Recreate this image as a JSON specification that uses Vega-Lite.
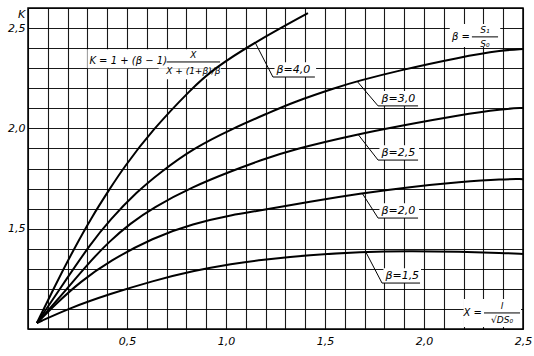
{
  "$schema": "https://vega.github.io/schema/vega-lite/v6.json",
  "width": 495,
  "height": 321,
  "autosize": "none",
  "padding": {"left": 28, "top": 8, "right": 11, "bottom": 27},
  "background": "white",
  "config": {
    "view": {"stroke": "black", "strokeWidth": 1.5},
    "font": "DejaVu Sans",
    "text": {"font": "DejaVu Sans", "fontStyle": "italic", "fontSize": 10, "color": "black"}
  },
  "datasets": {
    "curves": [
      {"beta": "4.0", "x": 0.045, "K": 1.03},
      {"beta": "4.0", "x": 0.136, "K": 1.215},
      {"beta": "4.0", "x": 0.227, "K": 1.39},
      {"beta": "4.0", "x": 0.323, "K": 1.56},
      {"beta": "4.0", "x": 0.414, "K": 1.7},
      {"beta": "4.0", "x": 0.48, "K": 1.8},
      {"beta": "4.0", "x": 0.626, "K": 1.99},
      {"beta": "4.0", "x": 0.828, "K": 2.2},
      {"beta": "4.0", "x": 0.934, "K": 2.295},
      {"beta": "4.0", "x": 1.146, "K": 2.43},
      {"beta": "4.0", "x": 1.414, "K": 2.575},
      {"beta": "3.0", "x": 0.045, "K": 1.03},
      {"beta": "3.0", "x": 0.202, "K": 1.26},
      {"beta": "3.0", "x": 0.313, "K": 1.42},
      {"beta": "3.0", "x": 0.414, "K": 1.545},
      {"beta": "3.0", "x": 0.551, "K": 1.685},
      {"beta": "3.0", "x": 0.667, "K": 1.78},
      {"beta": "3.0", "x": 0.833, "K": 1.9},
      {"beta": "3.0", "x": 1.035, "K": 2.0},
      {"beta": "3.0", "x": 1.222, "K": 2.08},
      {"beta": "3.0", "x": 1.338, "K": 2.13},
      {"beta": "3.0", "x": 1.561, "K": 2.205},
      {"beta": "3.0", "x": 1.662, "K": 2.235},
      {"beta": "3.0", "x": 1.879, "K": 2.29},
      {"beta": "3.0", "x": 2.182, "K": 2.355},
      {"beta": "3.0", "x": 2.399, "K": 2.39},
      {"beta": "3.0", "x": 2.5, "K": 2.396},
      {"beta": "2.5", "x": 0.045, "K": 1.03},
      {"beta": "2.5", "x": 0.197, "K": 1.2},
      {"beta": "2.5", "x": 0.298, "K": 1.32},
      {"beta": "2.5", "x": 0.414, "K": 1.44},
      {"beta": "2.5", "x": 0.515, "K": 1.525},
      {"beta": "2.5", "x": 0.631, "K": 1.605},
      {"beta": "2.5", "x": 0.833, "K": 1.71},
      {"beta": "2.5", "x": 1.035, "K": 1.79},
      {"beta": "2.5", "x": 1.172, "K": 1.84},
      {"beta": "2.5", "x": 1.338, "K": 1.895},
      {"beta": "2.5", "x": 1.662, "K": 1.97},
      {"beta": "2.5", "x": 1.879, "K": 2.012},
      {"beta": "2.5", "x": 2.182, "K": 2.067},
      {"beta": "2.5", "x": 2.399, "K": 2.097},
      {"beta": "2.5", "x": 2.5, "K": 2.102},
      {"beta": "2.0", "x": 0.045, "K": 1.03},
      {"beta": "2.0", "x": 0.146, "K": 1.13},
      {"beta": "2.0", "x": 0.263, "K": 1.235},
      {"beta": "2.0", "x": 0.414, "K": 1.34},
      {"beta": "2.0", "x": 0.631, "K": 1.455},
      {"beta": "2.0", "x": 0.833, "K": 1.525},
      {"beta": "2.0", "x": 1.035, "K": 1.57},
      {"beta": "2.0", "x": 1.172, "K": 1.59},
      {"beta": "2.0", "x": 1.424, "K": 1.635},
      {"beta": "2.0", "x": 1.677, "K": 1.675},
      {"beta": "2.0", "x": 1.929, "K": 1.708},
      {"beta": "2.0", "x": 2.182, "K": 1.733},
      {"beta": "2.0", "x": 2.399, "K": 1.748},
      {"beta": "2.0", "x": 2.5, "K": 1.747},
      {"beta": "1.5", "x": 0.045, "K": 1.03},
      {"beta": "1.5", "x": 0.212, "K": 1.105},
      {"beta": "1.5", "x": 0.414, "K": 1.175},
      {"beta": "1.5", "x": 0.631, "K": 1.24},
      {"beta": "1.5", "x": 0.833, "K": 1.29},
      {"beta": "1.5", "x": 1.035, "K": 1.326},
      {"beta": "1.5", "x": 1.172, "K": 1.344},
      {"beta": "1.5", "x": 1.424, "K": 1.369},
      {"beta": "1.5", "x": 1.677, "K": 1.384},
      {"beta": "1.5", "x": 1.929, "K": 1.389},
      {"beta": "1.5", "x": 2.182, "K": 1.385},
      {"beta": "1.5", "x": 2.399, "K": 1.379},
      {"beta": "1.5", "x": 2.5, "K": 1.374}
    ],
    "boxes": [
      {"x": 0.3, "x2": 0.975, "K": 2.3, "K2": 2.395},
      {"x": 0.66, "x2": 0.975, "K": 2.245, "K2": 2.3},
      {"x": 1.245, "x2": 1.455, "K": 2.256, "K2": 2.33},
      {"x": 1.775, "x2": 1.975, "K": 2.112, "K2": 2.186},
      {"x": 1.775, "x2": 1.975, "K": 1.842, "K2": 1.916},
      {"x": 1.775, "x2": 1.975, "K": 1.553, "K2": 1.627},
      {"x": 1.795, "x2": 1.985, "K": 1.229, "K2": 1.303},
      {"x": 2.13, "x2": 2.385, "K": 2.405, "K2": 2.52},
      {"x": 2.2, "x2": 2.49, "K": 1.01, "K2": 1.15}
    ],
    "rules": [
      {"x": 1.146, "K": 2.43, "x2": 1.237, "K2": 2.256},
      {"x": 1.237, "K": 2.256, "x2": 1.449, "K2": 2.256},
      {"x": 1.662, "K": 2.235, "x2": 1.768, "K2": 2.112},
      {"x": 1.768, "K": 2.112, "x2": 1.97, "K2": 2.112},
      {"x": 1.667, "K": 1.97, "x2": 1.768, "K2": 1.842},
      {"x": 1.768, "K": 1.842, "x2": 1.97, "K2": 1.842},
      {"x": 1.687, "K": 1.678, "x2": 1.768, "K2": 1.553},
      {"x": 1.768, "K": 1.553, "x2": 1.97, "K2": 1.553},
      {"x": 1.707, "K": 1.382, "x2": 1.788, "K2": 1.229},
      {"x": 1.788, "K": 1.229, "x2": 1.98, "K2": 1.229},
      {"x": 0.7, "K": 2.331, "x2": 0.97, "K2": 2.331},
      {"x": 2.242, "K": 2.456, "x2": 2.374, "K2": 2.456},
      {"x": 2.303, "K": 1.08, "x2": 2.485, "K2": 1.08}
    ],
    "betaLabels": [
      {"t": "β=4,0", "x": 1.255, "K": 2.266},
      {"t": "β=3,0", "x": 1.785, "K": 2.122},
      {"t": "β=2,5", "x": 1.785, "K": 1.852},
      {"t": "β=2,0", "x": 1.785, "K": 1.563},
      {"t": "β=1,5", "x": 1.805, "K": 1.239}
    ],
    "leftText": [
      {"t": "K = 1 + (β − 1)", "x": 0.31, "K": 2.335}
    ],
    "centerText": [
      {"t": "X", "x": 0.835, "K": 2.368},
      {"t": "X + (1+β)/β", "x": 0.835, "K": 2.285},
      {"t": "S₁", "x": 2.308, "K": 2.49},
      {"t": "S₀", "x": 2.308, "K": 2.42},
      {"t": "l", "x": 2.394, "K": 1.115},
      {"t": "√DS₀", "x": 2.394, "K": 1.045}
    ],
    "rightText": [
      {"t": "β =", "x": 2.232, "K": 2.456},
      {"t": "X =", "x": 2.293, "K": 1.08}
    ]
  },
  "layer": [
    {
      "data": {"name": "boxes"},
      "mark": {"type": "rect", "color": "white", "opacity": 1},
      "encoding": {
        "x": {"field": "x", "type": "quantitative"},
        "x2": {"field": "x2"},
        "y": {"field": "K", "type": "quantitative"},
        "y2": {"field": "K2"}
      }
    },
    {
      "data": {"name": "curves"},
      "mark": {"type": "line", "color": "black", "strokeWidth": 2, "interpolate": "basis"},
      "encoding": {
        "x": {
          "field": "x", "type": "quantitative",
          "scale": {"domain": [0, 2.5], "nice": false, "zero": false},
          "axis": {
            "values": [0,0.1,0.2,0.3,0.4,0.5,0.6,0.7,0.8,0.9,1.0,1.1,1.2,1.3,1.4,1.5,1.6,1.7,1.8,1.9,2.0,2.1,2.2,2.3,2.4,2.5],
            "tickCount": 100,
            "grid": true, "gridColor": "black", "gridWidth": 1.1, "gridOpacity": 0.9,
            "domain": false, "ticks": false, "title": null, "labelOverlap": false, "labelFlush": false,
            "labelExpr": "indexof(['0.5','1.0','1.5','2.0','2.5'], format(datum.value,'.1f')) >= 0 ? replace(format(datum.value,'.1f'),'.',',') : ''",
            "labelFont": "DejaVu Sans", "labelFontStyle": "italic", "labelFontSize": 11, "labelColor": "black", "labelPadding": 6
          }
        },
        "y": {
          "field": "K", "type": "quantitative",
          "scale": {"domain": [1.0, 2.6], "nice": false, "zero": false},
          "axis": {
            "values": [1.0,1.1,1.2,1.3,1.4,1.5,1.6,1.7,1.8,1.9,2.0,2.1,2.2,2.3,2.4,2.5,2.6],
            "tickCount": 100,
            "grid": true, "gridColor": "black", "gridWidth": 1.1, "gridOpacity": 0.9,
            "domain": false, "ticks": false, "labelOverlap": false, "labelFlush": false,
            "labelExpr": "indexof(['1.5','2.0','2.5'], format(datum.value,'.1f')) >= 0 ? replace(format(datum.value,'.1f'),'.',',') : ''",
            "labelFont": "DejaVu Sans", "labelFontStyle": "italic", "labelFontSize": 11, "labelColor": "black", "labelPadding": 3,
            "title": "K", "titleAngle": 0, "titleX": -7, "titleY": 9, "titleAlign": "center", "titleBaseline": "alphabetic",
            "titleFont": "DejaVu Sans", "titleFontStyle": "italic", "titleFontWeight": "normal", "titleFontSize": 11, "titleColor": "black"
          }
        },
        "detail": {"field": "beta", "type": "nominal"}
      }
    },
    {
      "data": {"name": "rules"},
      "mark": {"type": "rule", "color": "black", "strokeWidth": 1},
      "encoding": {
        "x": {"field": "x", "type": "quantitative"},
        "y": {"field": "K", "type": "quantitative"},
        "x2": {"field": "x2"},
        "y2": {"field": "K2"}
      }
    },
    {
      "data": {"name": "betaLabels"},
      "mark": {"type": "text", "align": "left", "baseline": "bottom", "fontSize": 11},
      "encoding": {
        "x": {"field": "x", "type": "quantitative"},
        "y": {"field": "K", "type": "quantitative"},
        "text": {"field": "t"}
      }
    },
    {
      "data": {"name": "leftText"},
      "mark": {"type": "text", "align": "left", "baseline": "middle", "fontSize": 10},
      "encoding": {
        "x": {"field": "x", "type": "quantitative"},
        "y": {"field": "K", "type": "quantitative"},
        "text": {"field": "t"}
      }
    },
    {
      "data": {"name": "centerText"},
      "mark": {"type": "text", "align": "center", "baseline": "middle", "fontSize": 9},
      "encoding": {
        "x": {"field": "x", "type": "quantitative"},
        "y": {"field": "K", "type": "quantitative"},
        "text": {"field": "t"}
      }
    },
    {
      "data": {"name": "rightText"},
      "mark": {"type": "text", "align": "right", "baseline": "middle", "fontSize": 10},
      "encoding": {
        "x": {"field": "x", "type": "quantitative"},
        "y": {"field": "K", "type": "quantitative"},
        "text": {"field": "t"}
      }
    }
  ]
}
